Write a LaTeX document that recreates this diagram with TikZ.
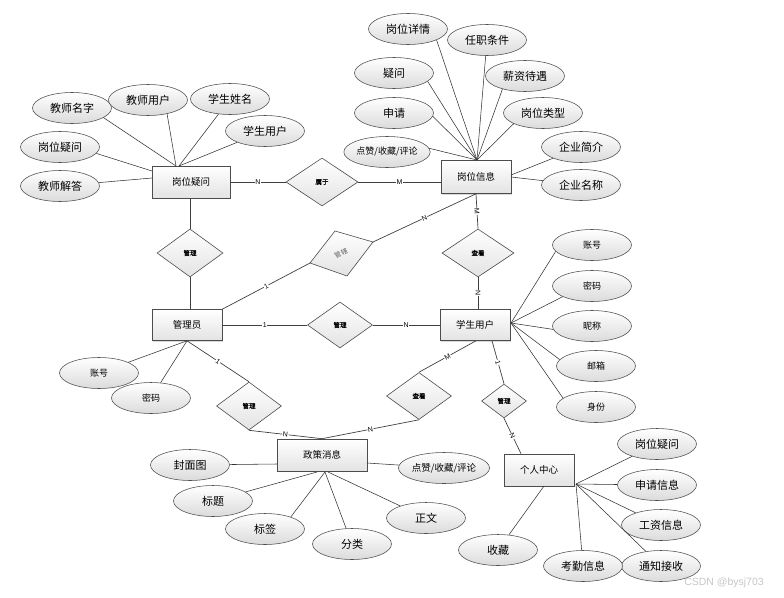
\documentclass[tikz,border=0pt]{standalone}
\usepackage{fontspec}
\setmainfont{Liberation Sans}
\newfontfamily\cjk{Noto Sans CJK SC}
\newfontfamily\cjkb{Noto Sans CJK SC}[FakeBold=1.2]
\usetikzlibrary{shapes.geometric,shadows}
\begin{document}
\begin{tikzpicture}[x=1pt,y=-1pt,
 ln/.style={draw=gray!40!black, line width=0.55pt},
 rl/.style={draw=gray!50!black, line width=0.7pt},
 ent/.style={rectangle, draw=gray!60!black, line width=0.6pt, top color=white, bottom color=gray!22,
   drop shadow={shadow xshift=1.2pt, shadow yshift=-1.2pt, fill=gray!50, opacity=0.6},
   inner sep=0pt, font=\cjk\fontsize{9.5}{11}\selectfont, minimum width=70pt, minimum height=32pt},
 att/.style={ellipse, draw=gray!60!black, line width=0.55pt, top color=white, bottom color=gray!28,
   inner sep=0pt, minimum width=79pt, minimum height=31pt, font=\cjk\fontsize{11}{13}\selectfont},
 satt/.style={att, font=\cjk\fontsize{9}{11}\selectfont},
 rel/.style={diamond, draw=gray!60!black, line width=0.6pt, top color=white, bottom color=gray!22,
   inner sep=0pt, font=\cjkb\fontsize{6.5}{8}\selectfont},
 card/.style={fill=white, inner sep=0.6pt, font=\fontsize{7}{8}\selectfont, midway, sloped}
]
\useasboundingbox (0,0) rectangle (784,597);

% entities
\node[ent, minimum width=78pt] (gwyw) at (191,182) {岗位疑问};
\node[ent, minimum height=33pt] (gwxx) at (476,177) {岗位信息};
\node[ent, minimum height=31pt] (gly) at (187,325) {管理员};
\node[ent, minimum height=31pt] (xsyh) at (475,325) {学生用户};
\node[ent, minimum width=90pt] (zcxx) at (322,455) {政策消息};
\node[ent] (grzx) at (539,470) {个人中心};

% relationships
\node[rel, minimum width=72pt, minimum height=48pt] (sy) at (322,182) {属于};
\node[rel, minimum width=66pt, minimum height=48pt] (gl1) at (190,253) {管理};
\node[rel, minimum width=72pt, minimum height=48pt] (ck1) at (478,253) {查看};
\node[rel, minimum width=65pt, minimum height=46pt] (gl2) at (340,325) {管理};
\node[rel, minimum width=65pt, minimum height=48pt] (gl3) at (249,406) {管理};
\node[rel, minimum width=65pt, minimum height=47pt] (ck2) at (419,396) {查看};
\node[rel, minimum width=45pt, minimum height=34pt] (gl4) at (504,401) {管理};

\coordinate (gxL) at (310,263);
\coordinate (gxT) at (335,231);
\coordinate (gxR) at (373,242);
\coordinate (gxB) at (347,276);
\path[draw=gray!60!black, line width=0.6pt, top color=white, bottom color=gray!22] (gxL) -- (gxT) -- (gxR) -- (gxB) -- cycle;
\node[font=\cjk\fontsize{6.5}{8}\selectfont, text=gray!70!black, rotate=25, inner sep=0pt] (gx) at (341,253) {管\kern0.6pt 辖};

% relationship connectors
\draw[rl] (gwyw) -- node[card]{N} (sy);
\draw[rl] (sy.east) -- node[card]{M} (sy.east -| gwxx.west);
\draw[rl] (gwyw.south -| gl1.north) -- (gl1.north);
\draw[rl] (gl1.south) -- (gl1.south |- gly.north);
\draw[rl] (gly.north east) -- node[card]{1} (gxL);
\draw[rl] (gxR) -- node[card]{N} (gwxx.south);
\draw[rl] (gwxx.south) -- node[card]{M} (ck1.north);
\draw[rl] (ck1.south) -- node[card]{N} (ck1.south |- xsyh.north);
\draw[rl] (gly.east) -- node[card]{1} (gl2.west);
\draw[rl] (gl2.east) -- node[card]{N} (xsyh.west);
\draw[rl] (gly.south) -- node[card]{1} (gl3.north);
\draw[rl] (gl3.south) -- node[card]{N} (zcxx.north);
\draw[rl] ([xshift=1pt]xsyh.south) -- node[card]{M} (ck2.north);
\draw[rl] (ck2.south) -- node[card]{N} (zcxx.north);
\draw[rl] ([xshift=17pt]xsyh.south) -- node[card]{1} (gl4.north);
\draw[rl] (gl4.south) -- node[card]{N} ([xshift=-18pt]grzx.north);

% attributes of 岗位疑问
\node[att] (a1) at (72,108) {教师名字};
\node[att] (a2) at (148,100) {教师用户};
\node[att] (a3) at (230,99) {学生姓名};
\node[att] (a4) at (265,131) {学生用户};
\node[att] (a5) at (60,147) {岗位疑问};
\node[att] (a6) at (60,186) {教师解答};
\coordinate (h1) at (176,166);
\coordinate (h2) at (179,166);
\coordinate (h3) at (152,171);
\coordinate (h4) at (152,178);
\draw[ln] (a1.-17) -- (h1);
\draw[ln] (a2.-36) -- (h1);
\draw[ln] (a3) -- (h2);
\draw[ln] (a4) -- (h2);
\draw[ln] (a5.-10) -- (h3);
\draw[ln] (a6.5) -- (h4);

% attributes of 岗位信息
\node[att] (b1) at (408,29) {岗位详情};
\node[att] (b2) at (487,40) {任职条件};
\node[att] (b3) at (394,73) {疑问};
\node[att] (b4) at (525,76) {薪资待遇};
\node[att] (b5) at (394,113) {申请};
\node[att] (b6) at (543,113) {岗位类型};
\node[att, font=\cjk\fontsize{9}{11}\selectfont] (b7) at (387,152) {点赞/收藏/评论};
\node[att] (b8) at (581,147) {企业简介};
\node[att] (b9) at (581,185) {企业名称};
\coordinate (h5) at (477,160);
\coordinate (h5a) at (511,175);
\coordinate (h5b) at (511,177);
\draw[ln] (b1.-21) -- (h5);
\draw[ln] (b2) -- (h5);
\draw[ln] (b3.-14) -- (h5);
\draw[ln] (b4.-150) -- (h5);
\draw[ln] (b5.-5) -- (h5);
\draw[ln] (b6.-160) -- (h5);
\draw[ln] (b7.5) -- (h5);
\draw[ln] (b8) -- (h5a);
\draw[ln] (b9) -- (h5b);

% attributes of 学生用户
\node[satt] (c1) at (592,245) {账号};
\node[satt] (c2) at (592,286) {密码};
\node[satt] (c3) at (592,326) {昵称};
\node[satt] (c4) at (596,366) {邮箱};
\node[satt] (c5) at (596,407) {身份};
\coordinate (h6) at (511,323);
\draw[ln] (c1.-170) -- (h6);
\draw[ln] (c2.-160) -- (h6);
\draw[ln] (c3.-175) -- (h6);
\draw[ln] (c4.170) -- (h6);
\draw[ln] (c5.165) -- (h6);

% attributes of 管理员
\node[satt] (d1) at (99,373) {账号};
\node[satt] (d2) at (151,398) {密码};
\draw[ln] (d1) -- (gly.south);
\draw[ln] (d2) -- (gly.south);

% attributes of 政策消息
\node[att] (e1) at (190,465) {封面图};
\node[att] (e2) at (213,501) {标题};
\node[att] (e3) at (265,529) {标签};
\node[att] (e4) at (352,544) {分类};
\node[att] (e5) at (426,518) {正文};
\node[att, font=\cjk\fontsize{9.5}{11}\selectfont] (e6) at (444,468) {点赞/收藏/评论};
\coordinate (h7) at (277,464);
\coordinate (h8) at (367,463);
\coordinate (h9) at (317,472);
\coordinate (h9a) at (325,472);
\coordinate (h9b) at (328,472);
\draw[ln] (e1) -- (h7);
\draw[ln] (e6) -- (h8);
\draw[ln] (e2) -- (h9);
\draw[ln] (e3.25) -- (h9a);
\draw[ln] (e4) -- (h9a);
\draw[ln] (e5) -- (h9b);

% attributes of 个人中心
\node[att] (f1) at (657,444) {岗位疑问};
\node[att] (f2) at (657,485) {申请信息};
\node[att] (f3) at (661,525) {工资信息};
\node[att] (f4) at (661,566) {通知接收};
\node[att] (f5) at (583,566) {考勤信息};
\node[att] (f6) at (498,550) {收藏};
\coordinate (h10) at (576,484);
\coordinate (h11) at (544,486);
\draw[ln] (f1) -- (h10);
\draw[ln] (f2) -- (h10);
\draw[ln] (f3) -- (h10);
\draw[ln] (f4) -- (h10);
\draw[ln] (f5) -- (h10);
\draw[ln] (f6) -- (h11);

\node[text=gray!45, font=\fontsize{10.5}{12}\selectfont, inner sep=0pt] (wm) at (724,583) {CSDN @bysj703};
\end{tikzpicture}
\end{document}
